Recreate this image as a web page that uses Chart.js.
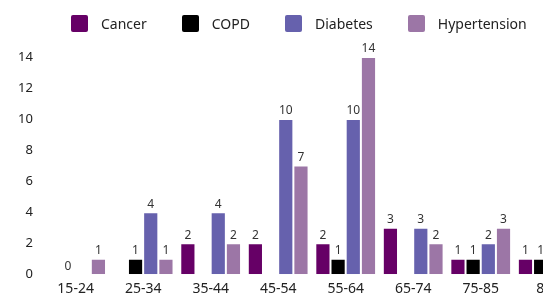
<!DOCTYPE html>
<html>
<head>
<meta charset="utf-8">
<script src="https://cdn.jsdelivr.net/npm/chart.js@4.4.0/dist/chart.umd.min.js"></script>
<style>
  html, body { margin: 0; padding: 0; background: #fff; overflow: hidden; }
  #wrap { width: 592px; height: 298px; position: relative; }
  #leyenda { position: absolute; top: 14px; left: 71px; display: flex; font: 14px 'Noto Sans', sans-serif; color: #222; white-space: nowrap; }
  #leyenda span.item { display: flex; align-items: center; margin-right: 35px; }
  #leyenda span.caja { width: 17px; height: 17px; border-radius: 2px; margin-right: 13px; display: inline-block; }
</style>
</head>
<body>
<div id="wrap">
  <canvas id="grafica"></canvas>
  <div id="leyenda"></div>
</div>
<script>
// Datos por grupo de edad
const edades = ["15-24", "25-34", "35-44", "45-54", "55-64", "65-74", "75-85", "85+"];
const cancer = [null, null, 2, 2, 2, 3, 1, 1];
const epoc = [0, 1, null, null, 1, null, 1, 1];
const diabetes = [null, 4, 4, 10, 10, 3, 2, 1];
const hipertension = [1, 1, 2, 7, 14, 2, 3, 1];
const marcasY = [0, 2, 4, 6, 8, 10, 12, 14];

const series = ["Cancer", "COPD", "Diabetes", "Hypertension"];
const colores = ["#660066", "#000000", "#6661ad", "#9c76a6"];

const fuente = "'Noto Sans', sans-serif";

// ✅ Etiquetas de valor sobre cada barra
const etiquetasValor = {
    id: "etiquetasValor",
    afterDatasetsDraw(chart) {
        const ctx = chart.ctx;
        ctx.save();
        ctx.font = "12px " + fuente;
        ctx.fillStyle = "#333";
        ctx.textAlign = "center";
        ctx.textBaseline = "bottom";
        chart.data.datasets.forEach((ds, i) => {
            const meta = chart.getDatasetMeta(i);
            meta.data.forEach((bar, j) => {
                const v = ds.data[j];
                if (v === null || v === undefined) return;
                ctx.fillText(v, bar.x, bar.y - 2);
            });
        });
        ctx.restore();
    }
};

// ✅ Leyenda en HTML
const leyenda = document.getElementById("leyenda");
series.forEach((nombre, i) => {
    const item = document.createElement("span");
    item.className = "item";
    item.innerHTML = `<span class="caja" style="background:${colores[i]}"></span>${nombre}`;
    leyenda.appendChild(item);
});

const ctx = document.getElementById("grafica").getContext("2d");

new Chart(ctx, {
    type: "bar",
    data: {
        labels: edades,
        datasets: [cancer, epoc, diabetes, hipertension].map((d, i) => ({
            label: series[i],
            data: d,
            backgroundColor: colores[i],
            borderColor: "rgba(255,255,255,0.6)",
            borderWidth: 1,
            categoryPercentage: 0.9,
            barPercentage: 1
        }))
    },
    options: {
        responsive: true,
        maintainAspectRatio: false,
        animation: false,
        layout: { padding: { left: 17, right: 10, top: 57, bottom: -5 } },
        plugins: {
            legend: { display: false },
            tooltip: { enabled: false }
        },
        scales: {
            x: {
                grid: { display: false, drawTicks: false },
                border: { display: false },
                ticks: { color: "#222", font: { family: fuente, size: 14 }, padding: 6 }
            },
            y: {
                min: 0,
                max: 14,
                grid: { display: false },
                border: { display: false },
                afterBuildTicks: axis => { axis.ticks = marcasY.map(v => ({ value: v })); },
                ticks: { color: "#222", font: { family: fuente, size: 13 }, padding: 1 }
            }
        }
    },
    plugins: [etiquetasValor]
});
</script>
</body>
</html>
